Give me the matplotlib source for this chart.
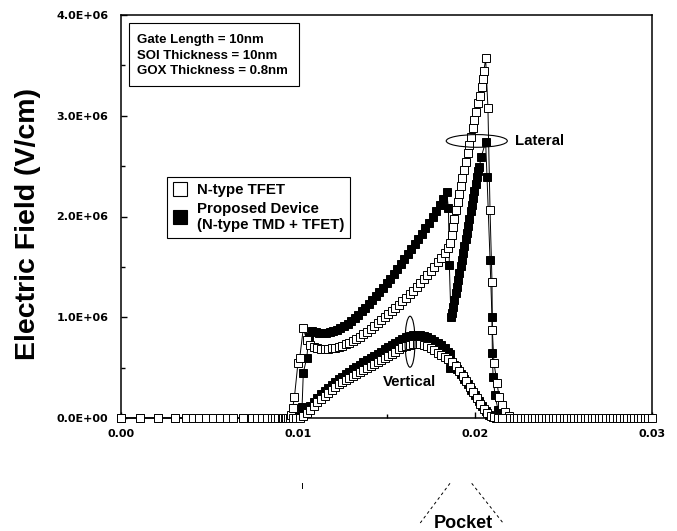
import numpy as np
import matplotlib.pyplot as plt
from matplotlib.lines import Line2D
from matplotlib.patches import Ellipse, Rectangle

plt.rcParams['font.family'] = ['Liberation Sans', 'DejaVu Sans']
plt.rcParams['font.weight'] = 'bold'

# ---- data (field in units of 1e6 V/cm) ----
# grid points lying on the zero line, left side
x_zero_left = [0.0, 0.00107, 0.0021, 0.00305, 0.0037, 0.00404, 0.00441, 0.00483,
               0.0052, 0.00559, 0.00597, 0.00634, 0.00687, 0.00738, 0.00767, 0.00795,
               0.00823, 0.00851, 0.0087, 0.00889, 0.00908, 0.00917, 0.00926, 0.00935,
               0.00944, 0.00952]
# zero line, right side (two interleaved grids)
x_tail_a = [0.0220, 0.0222, 0.0224, 0.0226, 0.0228, 0.0230, 0.0232, 0.0234, 0.0236,
            0.0238, 0.0240, 0.0242, 0.0244, 0.0246, 0.0248, 0.0250, 0.0252, 0.0254,
            0.0256, 0.0258, 0.0260, 0.0262, 0.0264, 0.0266, 0.0268, 0.0270, 0.0272,
            0.0274, 0.0276, 0.0278, 0.0280, 0.0282, 0.0284, 0.0286, 0.0288, 0.0290,
            0.0292, 0.0294, 0.0296, 0.0298, 0.0300]
x_tail_b = [0.0217, 0.0219, 0.0221, 0.0223, 0.0225, 0.0227, 0.0229, 0.0231, 0.0233,
            0.0235, 0.0237, 0.0239, 0.0241, 0.0243, 0.0245, 0.0247, 0.0249, 0.0251,
            0.0253, 0.0255, 0.0257, 0.0259, 0.0261, 0.0263, 0.0265, 0.0267, 0.0269,
            0.0271, 0.0273, 0.0275, 0.0277, 0.0279, 0.0281, 0.0283, 0.0285, 0.0287,
            0.0289, 0.0291, 0.0293, 0.0295, 0.0297, 0.0299]

# N-type TFET, lateral field
lat_tfet_x = [0.0096, 0.0097, 0.0098, 0.0100, 0.0101, 0.0103, 0.0105, 0.0107, 0.0109,
              0.0111, 0.0113, 0.0115, 0.0117, 0.0119, 0.0121, 0.0123, 0.0125, 0.0127,
              0.0129, 0.0131, 0.0133, 0.0135, 0.0137, 0.0139, 0.0141, 0.0143, 0.0145,
              0.0147, 0.0149, 0.0151, 0.0153, 0.0155, 0.0157, 0.0159, 0.0161, 0.0163,
              0.0165, 0.0167, 0.0169, 0.0171, 0.0173, 0.0175, 0.0177, 0.0179, 0.0181,
              0.0183, 0.0185,
              0.01859, 0.01868, 0.01876, 0.01884, 0.01893, 0.01902, 0.01911, 0.0192,
              0.01929, 0.01938, 0.01949, 0.01959, 0.01966, 0.01977, 0.01987, 0.01994,
              0.02006, 0.02017, 0.02028, 0.02038, 0.02044, 0.0205, 0.0206,
              0.02073, 0.02085, 0.02096, 0.02098, 0.02107, 0.02124, 0.02136, 0.02153,
              0.0217, 0.0219]
lat_tfet_y = [0.03, 0.10, 0.21, 0.55, 0.60, 0.89, 0.77, 0.72, 0.70,
              0.69, 0.68, 0.68, 0.68, 0.69, 0.69, 0.70, 0.71, 0.73,
              0.74, 0.76, 0.78, 0.80, 0.83, 0.85, 0.88, 0.91, 0.94,
              0.97, 1.00, 1.03, 1.06, 1.09, 1.12, 1.16, 1.19, 1.23,
              1.26, 1.30, 1.34, 1.38, 1.42, 1.46, 1.50, 1.55, 1.59,
              1.64, 1.69,
              1.74, 1.82, 1.90, 1.98, 2.06, 2.14, 2.22, 2.30,
              2.38, 2.46, 2.54, 2.63, 2.71, 2.79, 2.88, 2.96,
              3.04, 3.13, 3.20, 3.29, 3.36, 3.44, 3.57,
              3.08, 2.06, 1.35, 0.87, 0.55, 0.35, 0.21, 0.13,
              0.06, 0.02]

# Proposed device, lateral field
lat_prop_x = [0.0096, 0.0099, 0.01023, 0.0103, 0.0105, 0.0106, 0.0108,
              0.0110, 0.0112, 0.0114, 0.0116, 0.0118, 0.0120, 0.0122, 0.0124, 0.0126,
              0.0128, 0.0130, 0.0132, 0.0134, 0.0136, 0.0138, 0.0140, 0.0142, 0.0144,
              0.0146, 0.0148, 0.0150, 0.0152, 0.0154, 0.0156, 0.0158, 0.0160, 0.0162,
              0.0164, 0.0166, 0.0168, 0.0170, 0.0172, 0.0174, 0.0176, 0.0178, 0.0180,
              0.0182, 0.0184,
              0.01850, 0.01855, 0.01864,
              0.01870, 0.01877, 0.01884, 0.01891, 0.01898, 0.01905, 0.01912, 0.01919,
              0.01926, 0.01933, 0.01940, 0.01947, 0.01954, 0.01961, 0.01968, 0.01975,
              0.01982, 0.01989, 0.01996, 0.02003, 0.02010, 0.02017, 0.02024,
              0.02035, 0.0206, 0.02068,
              0.02085, 0.02096, 0.02098, 0.02102, 0.02113, 0.0213, 0.0215]
lat_prop_y = [0.0, 0.02, 0.11, 0.45, 0.60, 0.80, 0.86,
              0.85, 0.84, 0.84, 0.84, 0.85, 0.86, 0.87, 0.89, 0.91,
              0.93, 0.96, 0.99, 1.02, 1.06, 1.09, 1.13, 1.17, 1.21,
              1.25, 1.29, 1.34, 1.38, 1.43, 1.48, 1.53, 1.58, 1.63,
              1.68, 1.73, 1.78, 1.83, 1.89, 1.94, 2.00, 2.05, 2.11,
              2.17, 2.24,
              2.08, 1.52, 1.00,
              1.04, 1.10, 1.17, 1.24, 1.30, 1.37, 1.44, 1.51,
              1.57, 1.64, 1.71, 1.78, 1.84, 1.91, 1.98, 2.05,
              2.11, 2.18, 2.25, 2.32, 2.39, 2.45, 2.49,
              2.59, 2.74, 2.39,
              1.57, 1.00, 0.65, 0.41, 0.23, 0.08, 0.02]

# N-type TFET, vertical field
vert_tfet_x = [0.0097, 0.0099, 0.0101, 0.0103, 0.0105, 0.0107, 0.0109, 0.0111, 0.0113,
               0.0115, 0.0117, 0.0119, 0.0121, 0.0123, 0.0125, 0.0127, 0.0129, 0.0131,
               0.0133, 0.0135, 0.0137, 0.0139, 0.0141, 0.0143, 0.0145, 0.0147, 0.0149,
               0.0151, 0.0153, 0.0155, 0.0157, 0.0159, 0.0161, 0.0163, 0.0165, 0.0167,
               0.0169, 0.0171, 0.0173, 0.0175, 0.0177, 0.0179, 0.0181, 0.0183, 0.0185,
               0.0187, 0.0189, 0.0191, 0.0193, 0.0195, 0.0197, 0.0199, 0.0201, 0.0203,
               0.0205, 0.0207, 0.0209, 0.0211, 0.0213, 0.0215]
vert_tfet_y = [0.00, 0.00, 0.00, 0.02, 0.05, 0.08, 0.12, 0.16, 0.19,
               0.22, 0.25, 0.28, 0.31, 0.34, 0.36, 0.38, 0.40, 0.42,
               0.44, 0.46, 0.48, 0.50, 0.52, 0.54, 0.56, 0.58, 0.60,
               0.62, 0.64, 0.66, 0.68, 0.70, 0.71, 0.72, 0.73, 0.73,
               0.73, 0.72, 0.71, 0.69, 0.67, 0.65, 0.63, 0.61, 0.59,
               0.56, 0.52, 0.47, 0.42, 0.37, 0.31, 0.26, 0.20, 0.14,
               0.09, 0.05, 0.02, 0.01, 0.00, 0.00]

# Proposed device, vertical field
vert_prop_x = [0.0097, 0.0099, 0.0101, 0.0103, 0.0105, 0.0107, 0.0109, 0.0111, 0.0113,
               0.0115, 0.0117, 0.0119, 0.0121, 0.0123, 0.0125, 0.0127, 0.0129, 0.0131,
               0.0133, 0.0135, 0.0137, 0.0139, 0.0141, 0.0143, 0.0145, 0.0147, 0.0149,
               0.0151, 0.0153, 0.0155, 0.0157, 0.0159, 0.0161, 0.0163, 0.0165, 0.0167,
               0.0169, 0.0171, 0.0173, 0.0175, 0.0177, 0.0179, 0.0181, 0.0183, 0.0185,
               0.0186, 0.0186,
               0.0188, 0.0190, 0.0192, 0.0194, 0.0196, 0.0198, 0.0200, 0.0202, 0.0204,
               0.0206, 0.0208, 0.0210, 0.0212]
vert_prop_y = [0.00, 0.00, 0.01, 0.04, 0.08, 0.12, 0.16, 0.20, 0.24,
               0.27, 0.30, 0.33, 0.36, 0.39, 0.41, 0.44, 0.46, 0.49,
               0.51, 0.53, 0.56, 0.58, 0.60, 0.62, 0.64, 0.66, 0.68,
               0.70, 0.72, 0.74, 0.76, 0.78, 0.80, 0.81, 0.82, 0.82,
               0.82, 0.81, 0.80, 0.78, 0.76, 0.74, 0.72, 0.69, 0.66,
               0.64, 0.50,
               0.53, 0.49, 0.44, 0.39, 0.34, 0.28, 0.23, 0.17, 0.12,
               0.07, 0.03, 0.01, 0.00]

x_ticks = [0.0, 0.01, 0.02, 0.03]
x_tick_labels = ['0.00', '0.01', '0.02', '0.03']
y_ticks = [0, 1e6, 2e6, 3e6, 4e6]
y_tick_labels = ['0.0E+00', '1.0E+06', '2.0E+06', '3.0E+06', '4.0E+06']

info_lines = ['Gate Length = 10nm', 'SOI Thickness = 10nm', 'GOX Thickness = 0.8nm']
legend_labels = ['N-type TFET', 'Proposed Device\n(N-type TMD + TFET)']

# ---- figure ----
W, H = 677, 531
fig = plt.figure(figsize=(W / 100, H / 100), dpi=100)
ax = fig.add_axes([121 / W, 1 - 418 / H, (652 - 121) / W, (418 - 15) / H])


def draw(x, y, filled, z):
    ax.plot(x, np.array(y) * 1e6, color='black', lw=0.7, marker='s', ms=5.6,
            mfc='black' if filled else 'white', mec='black', mew=0.7,
            clip_on=False, zorder=z)


# lateral proposed (filled) under the open TFET markers
draw(x_zero_left + lat_prop_x + x_tail_b,
     [0] * len(x_zero_left) + lat_prop_y + [0] * len(x_tail_b), True, 3)
draw(vert_prop_x, vert_prop_y, True, 3)
draw(x_zero_left + lat_tfet_x + x_tail_a,
     [0] * len(x_zero_left) + lat_tfet_y + [0] * len(x_tail_a), False, 4)
draw(vert_tfet_x, vert_tfet_y, False, 4)

ax.set_xlim(0, 0.03)
ax.set_ylim(0, 4e6)
ax.set_xticks(x_ticks)
ax.set_xticklabels(x_tick_labels)
ax.set_yticks(y_ticks)
ax.set_yticklabels(y_tick_labels)
ax.set_xticks([0.005, 0.015, 0.025], minor=True)
ax.set_yticks([0.5e6, 1.5e6, 2.5e6, 3.5e6], minor=True)
ax.tick_params(which='both', direction='in', top=False, right=False, width=1)
ax.tick_params(which='major', length=4)
ax.tick_params(which='minor', length=3)
ax.tick_params(axis='y', which='major', pad=9)
ax.tick_params(axis='x', which='major', pad=8)
for lab in ax.get_xticklabels() + ax.get_yticklabels():
    lab.set_fontfamily('DejaVu Sans')
    lab.set_fontweight('bold')
    lab.set_fontsize(8)
for s in ax.spines.values():
    s.set_linewidth(1.1)

# ellipses marking the lateral / vertical curves
ax.add_patch(Ellipse((0.0201, 2.75e6), 0.00345, 0.126e6, fill=False, lw=0.8,
                     ec='black', zorder=6))
ax.text(0.02226, 2.75e6, 'Lateral', fontsize=10.8, fontweight='bold',
        ha='left', va='center', zorder=6)
ax.add_patch(Ellipse((0.01633, 0.757e6), 0.000565, 0.506e6, fill=False, lw=0.8,
                     ec='black', zorder=6))
ax.text(0.01631, 0.36e6, 'Vertical', fontsize=10.8, fontweight='bold',
        ha='center', va='center', zorder=6)

# legend
handles = [Line2D([], [], ls='none', marker='s', ms=9.5, mfc='white', mec='black', mew=0.8),
           Line2D([], [], ls='none', marker='s', ms=9.5, mfc='black', mec='black', mew=0.8)]
leg = ax.legend(handles, legend_labels, loc='upper left',
                bbox_to_anchor=(167 / W, 1 - 177 / H), bbox_transform=fig.transFigure,
                prop={'family': 'Liberation Sans', 'weight': 'bold', 'size': 10.8},
                fancybox=False, framealpha=1, edgecolor='black', borderpad=0.4,
                borderaxespad=0, handlelength=0.87, handletextpad=0.7, labelspacing=0.3)
leg.get_frame().set_linewidth(0.8)
leg.set_zorder(10)

# info box
fig.add_artist(Rectangle((129.3 / W, 1 - 86 / H), (299.3 - 129.3) / W, (86 - 23.3) / H,
                         transform=fig.transFigure, fill=False, ec='black', lw=0.8))
for i, line in enumerate(info_lines):
    fig.text(137.3 / W, 1 - (43.3 + 15.4 * i) / H, line, fontsize=9.5,
             fontweight='bold', ha='left', va='baseline')

# y label
fig.text(28 / W, 1 - 224 / H, 'Electric Field (V/cm)', rotation=90, fontsize=20.5,
         fontweight='bold', ha='center', va='center')

# pocket annotation below the plot
fig.add_artist(Line2D([450 / W, 420 / W], [1 - 483.3 / H, 1 - 523.3 / H],
                      transform=fig.transFigure, color='black', lw=0.7, ls=(0, (3, 3))))
fig.add_artist(Line2D([471.7 / W, 503.3 / W], [1 - 483.3 / H, 1 - 523.3 / H],
                      transform=fig.transFigure, color='black', lw=0.7, ls=(0, (3, 3))))
fig.add_artist(Line2D([301.7 / W, 301.7 / W], [1 - 483.3 / H, 1 - 488.3 / H],
                      transform=fig.transFigure, color='black', lw=0.7))
fig.text(463.5 / W, 1 - 528 / H, 'Pocket', fontsize=13, fontweight='bold',
         ha='center', va='baseline')

fig.savefig('out.png', dpi=100)
